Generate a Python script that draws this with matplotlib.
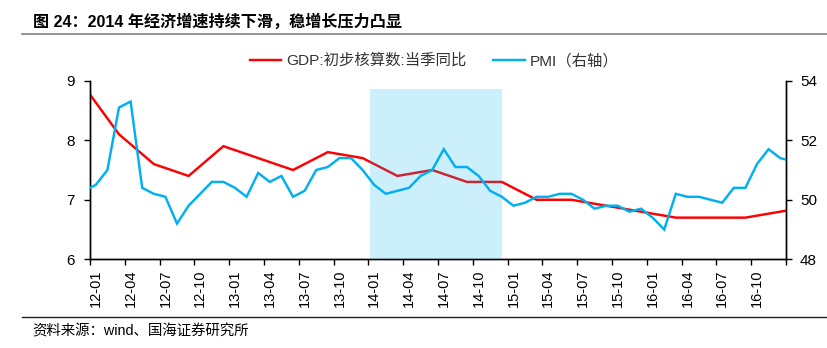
import matplotlib
matplotlib.use('Agg')
import matplotlib.pyplot as plt
from matplotlib.lines import Line2D
import pandas as pd

plt.rcParams['font.family'] = ['Liberation Sans', 'Noto Sans CJK SC', 'DejaVu Sans']

# ---------------- data ----------------
title = '图 24：2014 年经济增速持续下滑，稳增长压力凸显'
source = '资料来源：wind、国海证券研究所'
gdp_label = 'GDP:初步核算数:当季同比'
pmi_label = 'PMI（右轴）'

pmi_start = '2011-12'
pmi_values = [50.3,
              50.5, 51.0, 53.1, 53.3, 50.4, 50.2, 50.1, 49.2, 49.8, 50.2, 50.6, 50.6,
              50.4, 50.1, 50.9, 50.6, 50.8, 50.1, 50.3, 51.0, 51.1, 51.4, 51.4, 51.0,
              50.5, 50.2, 50.3, 50.4, 50.8, 51.0, 51.7, 51.1, 51.1, 50.8, 50.3, 50.1,
              49.8, 49.9, 50.1, 50.1, 50.2, 50.2, 50.0, 49.7, 49.8, 49.8, 49.6, 49.7,
              49.4, 49.0, 50.2, 50.1, 50.1, 50.0, 49.9, 50.4, 50.4, 51.2, 51.7, 51.4,
              51.3]

gdp_start = '2011Q4'
gdp_values = [8.9,
              8.1, 7.6, 7.4, 7.9,
              7.7, 7.5, 7.8, 7.7,
              7.4, 7.5, 7.3, 7.3,
              7.0, 7.0, 6.9, 6.8,
              6.7, 6.7, 6.7, 6.8,
              6.9]

tick_labels = ['12-01', '12-04', '12-07', '12-10', '13-01', '13-04', '13-07', '13-10',
               '14-01', '14-04', '14-07', '14-10', '15-01', '15-04', '15-07', '15-10',
               '16-01', '16-04', '16-07', '16-10']
axis_start = '2012-01'
n_months = 60
shade_start, shade_end = 24.15, 35.5   # 2014 highlight (month units)

# ---------------- positions ----------------
base = pd.Period(axis_start, freq='M')
pmi_periods = pd.period_range(pmi_start, periods=len(pmi_values), freq='M')
pmi_x = [(p - base).n + 0.5 for p in pmi_periods]
gdp_periods = pd.period_range(gdp_start, periods=len(gdp_values), freq='Q')
gdp_x = [(p.asfreq('M', 'end') - base).n + 0.5 for p in gdp_periods]

# ---------------- figure ----------------
W, H = 828, 348
fig = plt.figure(figsize=(W / 100, H / 100), dpi=100)
ax = fig.add_axes([90 / W, 1 - 259.3 / H, (786 - 90) / W, (259.3 - 80.7) / H])
ax2 = ax.twinx()

red = '#FF0000'
blue = '#00B0F0'

ax.plot(gdp_x, gdp_values, color=red, lw=1.75, solid_joinstyle='miter', zorder=3)
ax2.plot(pmi_x, pmi_values, color=blue, lw=1.75, solid_joinstyle='miter', zorder=3)
ax2.axvspan(shade_start, shade_end, ymin=0, ymax=(8.855 - 6) / 3,
            color=blue, alpha=0.2, lw=0, zorder=5)

ax.set_xlim(0, n_months)
ax.set_ylim(6, 9)
ax2.set_ylim(48, 54)
ax.set_yticks([6, 7, 8, 9])
ax2.set_yticks([48, 50, 52, 54])

ax.set_xticks(range(0, n_months + 1, 3))
ax.set_xticklabels([])
ax.set_xticks([i * 3 + 0.5 for i in range(len(tick_labels))], minor=True)
ax.set_xticklabels(tick_labels, minor=True, rotation=90, fontsize=10.5)
ax.tick_params(axis='x', which='major', length=4, width=1, direction='out')
ax.tick_params(axis='x', which='minor', length=0, pad=7.5)
ax.tick_params(axis='y', length=4, width=1, pad=7, labelsize=11)
ax2.tick_params(axis='y', length=4, width=1, pad=6, labelsize=11)

for a in (ax, ax2):
    a.spines['top'].set_visible(False)
    for s in ('left', 'right', 'bottom'):
        a.spines[s].set_linewidth(1.0)
        a.spines[s].set_color('#000000')

# legend
handles = [Line2D([], [], color=red, lw=1.75), Line2D([], [], color=blue, lw=1.75)]
fig.legend(handles, [gdp_label, pmi_label], loc='center',
           bbox_to_anchor=(434 / W, 1 - 60.7 / H), ncol=2, frameon=False,
           fontsize=11.1, handlelength=2.05, handletextpad=0.3, columnspacing=1.75,
           labelcolor='#333333')

# title & decorations
fig.text(33 / W, 1 - 22 / H, title, fontsize=11.6, fontweight='bold',
         va='center', ha='left', color='#000000')
fig.add_artist(Line2D([22 / W, 1], [1 - 33.5 / H, 1 - 33.5 / H],
                      color='#808080', lw=1.2, transform=fig.transFigure))
fig.add_artist(Line2D([22 / W, 1], [1 - 317 / H, 1 - 317 / H],
                      color='#222222', lw=1.0, transform=fig.transFigure))
fig.text(32 / W, 1 - 331 / H, source, fontsize=10.4, va='center', ha='left',
         color='#000000')

fig.savefig('out.png', dpi=100)
